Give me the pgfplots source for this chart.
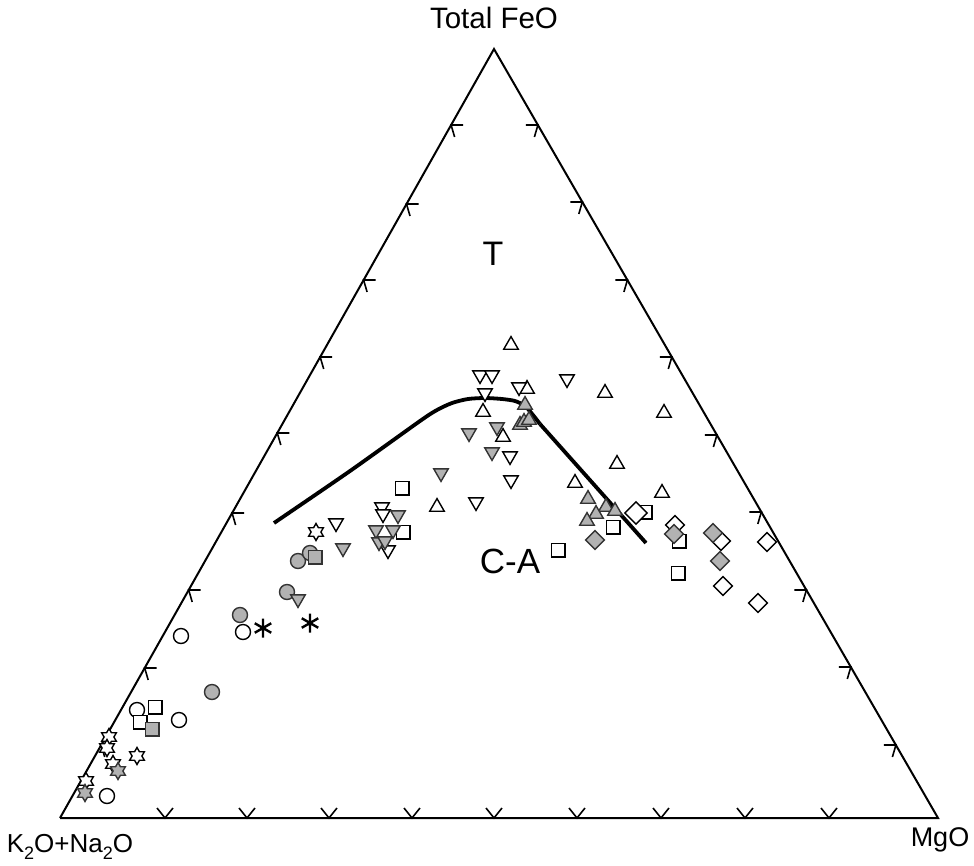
\documentclass[border=0pt]{standalone}
\usepackage{fontspec}
\setmainfont{Liberation Sans}
\usepackage{pgfplots}
\pgfplotsset{compat=1.18}
\pgfdeclareplotmark{hexstar}{%
  \pgfpathmoveto{\pgfpointpolar{90}{\pgfplotmarksize}}%
  \pgfpathlineto{\pgfpointpolar{120}{0.577\pgfplotmarksize}}%
  \pgfpathlineto{\pgfpointpolar{150}{\pgfplotmarksize}}%
  \pgfpathlineto{\pgfpointpolar{180}{0.577\pgfplotmarksize}}%
  \pgfpathlineto{\pgfpointpolar{210}{\pgfplotmarksize}}%
  \pgfpathlineto{\pgfpointpolar{240}{0.577\pgfplotmarksize}}%
  \pgfpathlineto{\pgfpointpolar{270}{\pgfplotmarksize}}%
  \pgfpathlineto{\pgfpointpolar{300}{0.577\pgfplotmarksize}}%
  \pgfpathlineto{\pgfpointpolar{330}{\pgfplotmarksize}}%
  \pgfpathlineto{\pgfpointpolar{0}{0.577\pgfplotmarksize}}%
  \pgfpathlineto{\pgfpointpolar{30}{\pgfplotmarksize}}%
  \pgfpathlineto{\pgfpointpolar{60}{0.577\pgfplotmarksize}}%
  \pgfpathclose
  \pgfusepathqfillstroke}
\colorlet{gfill}{black!30}
\begin{document}
\begin{tikzpicture}
\begin{axis}[
  width=974pt, height=865pt, scale only axis,
  xmin=0, xmax=974, ymin=0, ymax=865, y dir=reverse,
  axis line style={draw=none}, xtick=\empty, ytick=\empty,
  clip=false,
  open/.style={only marks, mark options={draw=black, fill=white, line width=1.4pt, #1}},
  open/.default={},
  grey/.style={only marks, mark options={draw=black!80, fill=gfill, line width=1.4pt, #1}},
  grey/.default={},
]
% triangle frame
\addplot[black, line width=2pt, line join=miter] coordinates {(60,818) (938,818) (494,49) (60,818)};
% left edge ticks
\addplot[black, line width=1.6pt, unbounded coords=jump] coordinates {
(463.1,125) (451.1,125) (454.6,137) (nan,nan)
(418.5,204) (406.5,204) (410.0,216) (nan,nan)
(375.6,280) (363.6,280) (367.1,292) (nan,nan)
(332.2,357) (320.2,357) (323.7,369) (nan,nan)
(289.3,433) (277.3,433) (280.8,445) (nan,nan)
(244.1,513) (232.1,513) (235.6,525) (nan,nan)
(200.7,590) (188.7,590) (192.2,602) (nan,nan)
(156.7,668) (144.7,668) (148.2,680) (nan,nan)
(113.2,745) (101.2,745) (104.7,757)
};
% right edge ticks
\addplot[black, line width=1.6pt, unbounded coords=jump] coordinates {
(525.9,125) (537.9,125) (534.4,137) (nan,nan)
(570.3,202) (582.3,202) (578.8,214) (nan,nan)
(615.4,280) (627.4,280) (623.9,292) (nan,nan)
(659.8,357) (671.8,357) (668.3,369) (nan,nan)
(704.9,435) (716.9,435) (713.4,447) (nan,nan)
(749.3,512) (761.3,512) (757.8,524) (nan,nan)
(794.4,590) (806.4,590) (802.9,602) (nan,nan)
(838.8,667) (850.8,667) (847.3,679) (nan,nan)
(883.9,745) (895.9,745) (892.4,757)
};
% bottom edge ticks
\addplot[black, line width=1.6pt, unbounded coords=jump] coordinates {
(157,808) (165,818) (173,808) (nan,nan)
(239,808) (247,818) (255,808) (nan,nan)
(321,808) (329,818) (337,808) (nan,nan)
(404,808) (412,818) (420,808) (nan,nan)
(486,808) (494,818) (502,808) (nan,nan)
(569,808) (577,818) (585,808) (nan,nan)
(653,808) (661,818) (669,808) (nan,nan)
(737,808) (745,818) (753,808) (nan,nan)
(821,808) (829,818) (837,808)
};
% T / C-A dividing curve
\addplot[black, line width=3.8pt, smooth, tension=0.45] coordinates {
(274,523) (350,471) (420,421) (437,410) (452,403) (468,399) (485,398)
(502,399) (515,401) (525,406) (533,415) (540,424)};
\addplot[black, line width=3.8pt] coordinates {(540,424) (646,543)};
% open circles
\addplot[open, mark=*, mark size=7.5] coordinates {
(181,636) (243,632) (137,710) (179,720) (107,796)};
% grey circles
\addplot[grey, mark=*, mark size=7.5] coordinates {
(212,692) (240,615) (287,592) (298,561) (310,553)};
% open squares
\addplot[open, mark=square*, mark size=6.8] coordinates {
(155,707) (140,722) (402,488) (403,532) (558,550) (613,527) (645,512) (679,541) (678,573)};
% grey squares
\addplot[grey, mark=square*, mark size=6.8] coordinates {
(152,729) (315,557)};
% open stars
\addplot[open, mark=hexstar, mark size=8.5] coordinates {
(109,737) (107,748) (137,756) (113,764) (86,781) (316,532)};
% grey stars
\addplot[grey, mark=hexstar, mark size=8.5] coordinates {
(118,771) (85,793)};
% asterisks
\addplot[only marks, mark=asterisk, mark size=9.5, mark options={draw=black, line width=2.4pt}] coordinates {
(263,628) (310,623)};
% open up-triangles
\addplot[open, mark=triangle*, mark size=8.4] coordinates {
(511,345) (483,412) (527,389) (503,437) (437,507) (605,393) (664,413) (617,464) (575,483) (662,493)};
% grey up-triangles
\addplot[grey, mark=triangle*, mark size=8.4] coordinates {
(525,405) (520,425) (524,422) (529,420) (588,499) (606,507) (615,511) (596,514) (587,521)};
% open down-triangles
\addplot[open={rotate=180}, mark=triangle*, mark size=8.4] coordinates {
(480,375) (492,375) (485,393) (519,387) (567,379) (510,456) (511,480) (476,502)
(336,523) (382,507) (383,514) (388,550)};
% grey down-triangles
\addplot[grey={rotate=180}, mark=triangle*, mark size=8.4] coordinates {
(398,515) (376,530) (393,530) (379,542) (385,541) (343,548) (298,599)
(441,473) (469,433) (497,427) (492,452)};
% open diamonds
\addplot[open={rotate=45}, mark=square*, mark size=6.6] coordinates {
(675,525) (721,541) (767,542) (723,586) (758,603)};
\addplot[open={rotate=45}, mark=square*, mark size=7.8] coordinates {
(636,513)};
% grey diamonds
\addplot[grey={rotate=45}, mark=square*, mark size=6.6] coordinates {
(674,534) (595,540) (713,533) (720,561)};
% labels
\node[anchor=base, inner sep=0pt] at (axis cs:494,28) {\fontsize{29.5}{31}\selectfont Total FeO};
\node[anchor=base, inner sep=0pt] at (axis cs:70,852) {\fontsize{26}{28}\selectfont K\raisebox{-0.28em}{\fontsize{18}{18}\selectfont 2}O+Na\raisebox{-0.28em}{\fontsize{18}{18}\selectfont 2}O};
\node[anchor=base, inner sep=0pt] at (axis cs:940,846) {\fontsize{27}{29}\selectfont MgO};
\node[anchor=base, inner sep=0pt] at (axis cs:493,265) {\fontsize{34}{36}\selectfont T};
\node[anchor=base, inner sep=0pt] at (axis cs:510,573) {\fontsize{35}{37}\selectfont C-A};
\end{axis}
\end{tikzpicture}
\end{document}
